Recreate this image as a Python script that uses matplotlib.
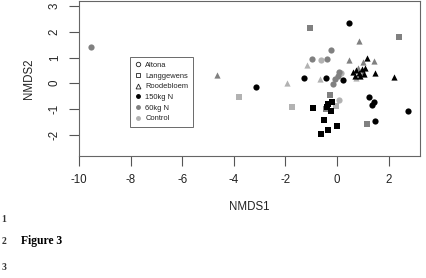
import matplotlib
matplotlib.use("Agg")
import matplotlib.pyplot as plt
from matplotlib.lines import Line2D

plt.rcParams['font.family'] = ['Liberation Sans', 'DejaVu Sans']
plt.rcParams['axes.unicode_minus'] = False

# NMDS scores, one set per site x treatment
# 150kg N (black)
altona_150_x = [-3.15, -1.28, 0.47, -0.44, 0.22, 1.47, 2.74, 1.24, 1.43, 1.34]
altona_150_y = [-0.14, 0.22, 2.36, 0.22, 0.13, -1.47, -1.09, -0.54, -0.72, -0.86]
lang_150_x = [-0.94, -0.34, -0.21, -0.38, -0.25, -0.50, 0.01, -0.34, -0.63]
lang_150_y = [-0.96, -0.81, -0.75, -0.93, -1.07, -1.45, -1.65, -1.82, -1.98]
rood_150_x = [0.62, 0.72, 0.85, 0.98, 1.10, 0.70, 0.90, 1.05, 1.15, 1.47, 2.20]
rood_150_y = [0.45, 0.52, 0.40, 0.55, 0.60, 0.30, 0.28, 0.35, 1.00, 0.39, 0.23]

# 60kg N (mid grey)
altona_60_x = [-9.55, -0.98, -0.38, -0.23, 0.09, 0.03, -0.07, -0.14]
altona_60_y = [1.42, 0.93, 0.93, 1.31, 0.43, 0.30, 0.16, -0.04]
lang_60_x = [-1.03, 2.41, -0.29, -0.44, 1.15]
lang_60_y = [2.14, 1.81, -0.46, -1.00, -1.58]
rood_60_x = [-4.64, 0.86, 0.47, 0.99, 1.43, 0.80, 1.00]
rood_60_y = [0.33, 1.65, 0.91, 0.84, 0.87, 0.58, 0.45]

# Control (light grey)
altona_c_x = [-0.64, 0.08, 0.14]
altona_c_y = [0.91, -0.65, 0.38]
lang_c_x = [-3.80, -1.76, -0.03]
lang_c_y = [-0.52, -0.91, -0.88]
rood_c_x = [-1.94, -1.15, -0.66, 0.75]
rood_c_y = [0.02, 0.71, 0.17, 0.22]

col_150 = '#000000'
col_60 = '#808080'
col_c = '#b2b2b2'

fig = plt.figure(figsize=(4.26, 2.78), dpi=100)
ax = fig.add_axes([0.1854, 0.44, 0.7996, 0.5564])

groups = [
    (altona_c_x, altona_c_y, 'o', col_c), (lang_c_x, lang_c_y, 's', col_c), (rood_c_x, rood_c_y, '^', col_c),
    (altona_60_x, altona_60_y, 'o', col_60), (lang_60_x, lang_60_y, 's', col_60), (rood_60_x, rood_60_y, '^', col_60),
    (altona_150_x, altona_150_y, 'o', col_150), (lang_150_x, lang_150_y, 's', col_150), (rood_150_x, rood_150_y, '^', col_150),
]
for gx, gy, m, c in groups:
    size = 20 if m != 's' else 17
    ax.scatter(gx, gy, marker=m, s=size, color=c, linewidths=0, zorder=3)

ax.set_xlim(-10, 3.2)
ax.set_ylim(-2.82, 3.2)
ax.set_xticks([-10, -8, -6, -4, -2, 0, 2])
ax.set_yticks([-2, -1, 0, 1, 2, 3])
ax.set_yticklabels(['-2', '-1', '0', '1', '2', '3'], rotation=90, va='center')
ax.tick_params(direction='out', length=7, width=0.8, color='#555555', labelsize=8.3,
               labelcolor='#222222', pad=6)
for sp in ax.spines.values():
    sp.set_color('#666666')
    sp.set_linewidth(0.8)

ax.set_xlabel('NMDS1', fontsize=8.3, color='#222222', labelpad=11)
ax.set_ylabel('NMDS2', fontsize=8.3, color='#222222', labelpad=10)

handles = [
    Line2D([], [], marker='o', ls='', mfc='none', mec='#222222', ms=3.2, mew=0.6),
    Line2D([], [], marker='s', ls='', mfc='none', mec='#222222', ms=3.2, mew=0.6),
    Line2D([], [], marker='^', ls='', mfc='none', mec='#222222', ms=3.5, mew=0.6),
    Line2D([], [], marker='o', ls='', color=col_150, ms=2.5),
    Line2D([], [], marker='o', ls='', color=col_60, ms=2.5),
    Line2D([], [], marker='o', ls='', color=col_c, ms=2.5),
]
labels = ['Altona', 'Langgewens', 'Roodebloem', '150kg N', '60kg N', 'Control']
leg = ax.legend(handles, labels, loc='upper left', bbox_to_anchor=(0.151, 0.636),
                fontsize=5.4, frameon=True, fancybox=False, edgecolor='#444444',
                handlelength=0.8, handletextpad=0.6, labelspacing=0.45,
                borderpad=0.6, borderaxespad=0)
leg.get_frame().set_linewidth(0.7)
for t in leg.get_texts():
    t.set_color('#222222')

fig.text(0.049, 1 - 241 / 278, 'Figure 3', family='Liberation Serif', weight='bold',
         fontsize=8.4, va='center', ha='left')
# manuscript line numbers at the left margin
for num, py in [('1', 220), ('2', 241), ('3', 267)]:
    fig.text(0.004, 1 - py / 278, num, family='Liberation Serif', weight='bold',
             fontsize=7, va='center', ha='left', color='#333333')

fig.savefig('out.png', dpi=100)
